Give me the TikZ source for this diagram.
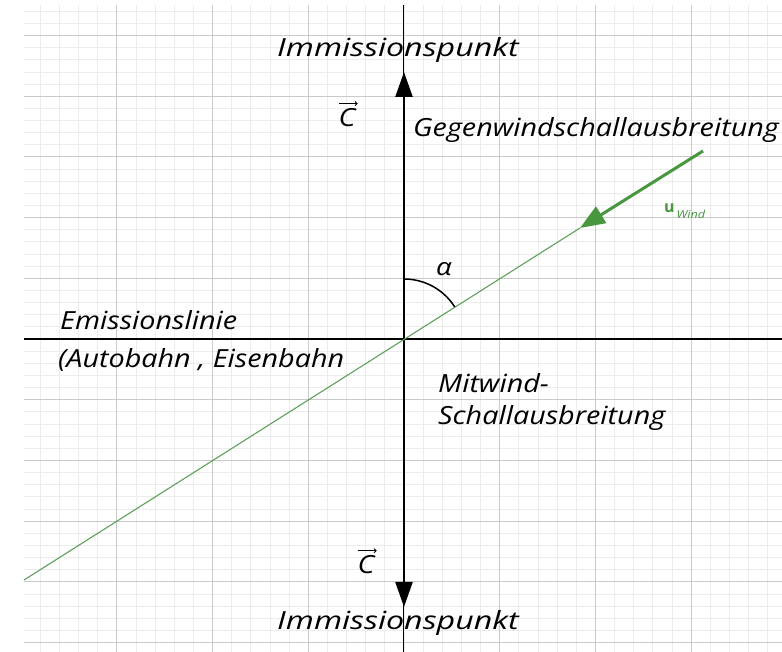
\documentclass[tikz,border=0pt]{standalone}
\usepackage{fontspec}
\setmainfont{Open Sans}
\newfontfamily\hand{Open Sans}[FakeStretch=1.15]
\usetikzlibrary{arrows.meta}
\definecolor{gridminor}{RGB}{236,236,236}
\definecolor{gridmajor}{RGB}{202,202,202}
\definecolor{windgreen}{RGB}{72,150,62}
\definecolor{linegreen}{RGB}{95,160,90}

\begin{document}
\begin{tikzpicture}[x=1pt, y=1pt,
        minorgrid/.style={gridminor, line width=0.8pt},
        majorgrid/.style={gridmajor, line width=1pt},
        handtext/.style={font=\hand\itshape\fontsize{25}{30}\selectfont, inner sep=0pt, anchor=base west},
        axisline/.style={black, line width=2pt},
        vecarrow/.style={-{Triangle[length=25pt, width=17pt]}, black, line width=2.4pt},
        overarrow/.style={-{To[length=3pt, width=5pt]}, black, line width=0.9pt}
    ]
    \useasboundingbox (-404,-313) rectangle (378,339);
    \fill[white] (-404,-313) rectangle (378,339);

    % Kaestchenpapier
    \foreach \i in {-19,...,19}
        \draw[minorgrid] (\i*19.14,-313) -- (\i*19.14,334);
    \foreach \j in {-25,...,27}
        \draw[minorgrid] (-380,\j*12.14) -- (378,\j*12.14);
    \foreach \i in {-3,...,3}
        \draw[majorgrid] (\i*95.7,-313) -- (\i*95.7,334);
    \foreach \j in {-5,...,5}
        \draw[majorgrid] (-380,\j*60.7) -- (378,\j*60.7);

    % Achsen
    \coordinate (O) at (0,0);
    \coordinate (west) at (-380,0);
    \coordinate (east) at (378,0);
    \coordinate (gridtop) at (0,334);
    \coordinate (gridbot) at (0,-313);
    \coordinate (ctop) at (0,267);
    \coordinate (cbot) at (0,-268);
    \draw[black, line width=1pt] (gridbot) -- (gridtop);
    \draw[axisline] (west) -- (east);
    \draw[vecarrow] (O) -- (ctop);
    \draw[vecarrow] (O) -- (cbot);

    % Wind
    \coordinate (wstart) at (-380,-241);
    \coordinate (wtip) at (176,111);
    \coordinate (wtail) at (299,188);
    \draw[linegreen, line width=1.1pt] (wstart) -- (wtip);
    \draw[windgreen, line width=3pt, -{Triangle[length=25pt, width=19pt]}] (wtail) -- (wtip);

    % Winkel
    \coordinate (arcstart) at (0,60);
    \draw[black, line width=1.5pt] (arcstart) arc[start angle=90, end angle=32.4, radius=60];
    \node[font=\hand\itshape\fontsize{24}{28}\selectfont] (alpha) at (40,70) {α};

    \node[handtext, anchor=base] (imtop) at (-6,282) {\scalebox{1.12}[1]{Immissionspunkt}};
    \node[handtext, anchor=base] (imbot) at (-6,-291) {\scalebox{1.12}[1]{Immissionspunkt}};
    \node[handtext, anchor=center] (cvtop) at (-57,221) {C};
    \node[handtext, anchor=center] (cvbot) at (-38,-226) {C};
    \draw[overarrow] ([xshift=1pt, yshift=5pt]cvtop.north west) -- ([xshift=2pt, yshift=5pt]cvtop.north east);
    \draw[overarrow] ([xshift=1pt, yshift=5pt]cvbot.north west) -- ([xshift=2pt, yshift=5pt]cvbot.north east);
    \node[handtext] (gegen) at (9,202) {Gegenwindschallausbreitung};
    \node[handtext] (emis) at (-344,9) {Emissionslinie};
    \node[handtext] (bahn) at (-346,-29) {(Autobahn , Eisenbahn};
    \node[handtext] (mit1) at (34,-54) {Mitwind-};
    \node[handtext] (mit2) at (34,-86) {Schallausbreitung};
    \node[windgreen, inner sep=0pt, anchor=base west] (uwind) at (260,126)
        {\fontsize{16}{18}\selectfont\bfseries u\raisebox{-6pt}{\hand\mdseries\itshape\fontsize{11}{13}\selectfont\,Wind}};
\end{tikzpicture}
\end{document}
